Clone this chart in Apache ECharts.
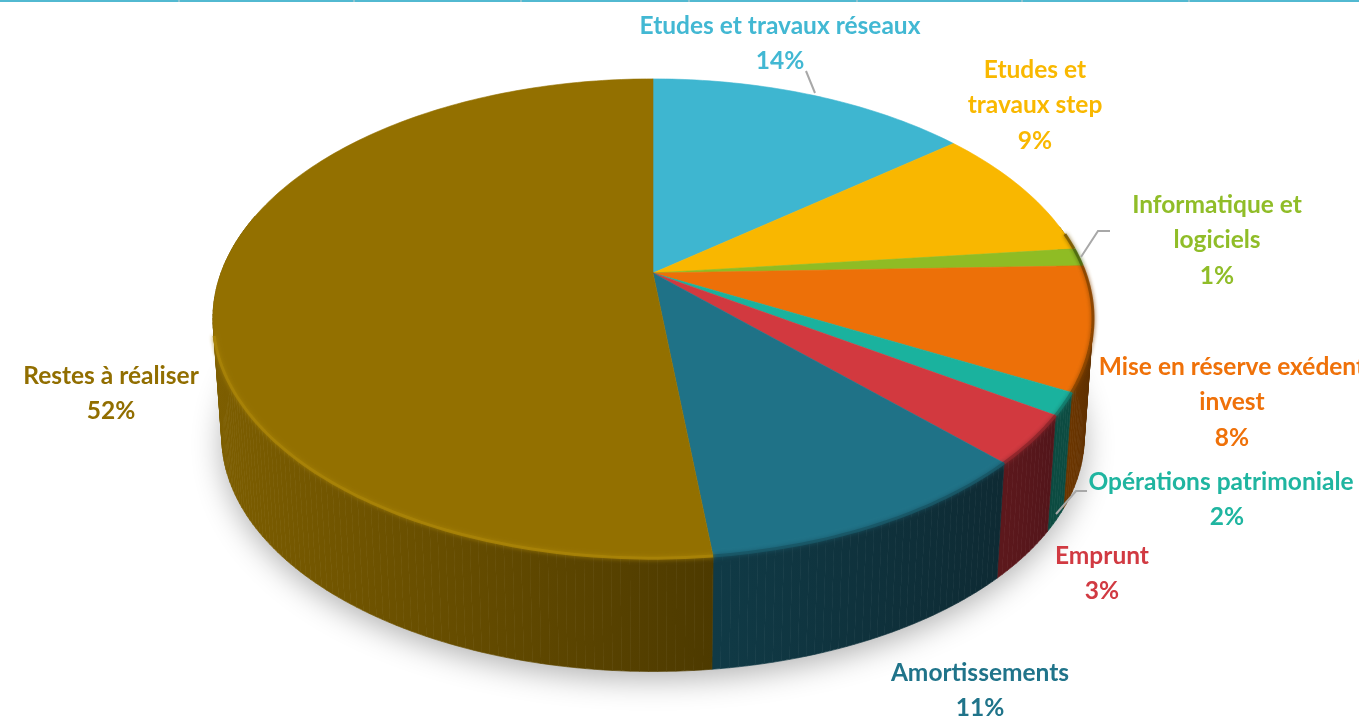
<!DOCTYPE html>
<html><head><meta charset="utf-8">
<style>html,body{margin:0;padding:0;background:#fff}#c{width:1359px;height:718px}</style>
<script src="https://cdn.jsdelivr.net/npm/echarts@6/dist/echarts.min.js"></script>
</head><body><div id="c"></div>
<script>
// ---- data ----
const categories = ['Etudes et travaux réseaux','Etudes et travaux step','Informatique et logiciels','Mise en réserve exédent invest','Opérations patrimoniale','Emprunt','Amortissements','Restes à réaliser'];
const values = [14.2, 9.1, 1.2, 8.3, 1.5, 3.3, 10.6, 51.8];
const labelLines = [['Etudes et travaux réseaux'],['Etudes et','travaux step'],['Informatique et','logiciels'],['Mise en réserve exédent','invest'],['Opérations patrimoniale'],['Emprunt'],['Amortissements'],['Restes à réaliser']];
// ---- styles ----
const faceColors = ['#3eb6d0','#f9b700','#8fbc24','#ed7008','#1ab29e','#d2393f','#1f7287','#937000'];
const textColors = ['#42b8d3','#f9b800','#90bd28','#ef7109','#1fb5a0','#d13a42','#20748a','#916e00'];
const wallLeft  = ['#1b5a68','#7c5c00','#47600f','#6a3500','#0c4b41','#5c181c','#103a46','#7d5e00'];
const wallRight = ['#1b5a68','#7c5c00','#47600f','#5c2e00','#0c4b41','#52151a','#0e2a33','#4d3a00'];
const rimColors = ['#2a8ba0','#7a5a00','#4e6a10','#8a4500','#137a6c','#8f262b','#185666','#a88308'];
const labelPos = [[780,26],[1035,70],[1217,205],[1232,367],[1227,482],[1102,556],[980,673],[111,376]];
const lineShift = {4:[-6,0]};
const leaders = [[[806,71],[815,93]],[[1081,257],[1098,231],[1110,231]],[[1056,514],[1076,491],[1087,491]]];
const topTicks = [178,353,520,688,856,1021,1188];
const FONT = 'Lato', FS = 24.5, LH = 35.5;
// ---- projection ----
const CX=653, CY=273, A=231, B=432, K=0.19, DEPTH_S=0.98, BOT_Y=392;
function proj(deg){const t=deg*Math.PI/180,u=Math.sin(t),v=-Math.cos(t),w=1-K*v;return [B*u/w,A*v/w];}
const topPt=d=>{const p=proj(d);return [CX+p[0],CY+p[1]];};
const botPt=d=>{const p=proj(d);return [CX+DEPTH_S*p[0],BOT_Y+DEPTH_S*p[1]];};
function arc(fn,a,b){const r=[],n=Math.max(2,Math.ceil(Math.abs(b-a)));for(let i=0;i<=n;i++)r.push(fn(a+(b-a)*i/n));return r;}
const total=values.reduce((s,v)=>s+v,0);
function range(i){let s=0;for(let j=0;j<i;j++)s+=values[j];return [s/total*360,(s+values[i])/total*360];}
function pct(i){return values[i]/total*100;}

const chart=echarts.init(document.getElementById('c'),null,{renderer:'canvas'});
const G=echarts.graphic;
chart.setOption({
  animation:false,
  backgroundColor:'#ffffff',
  graphic:[
    {type:'rect',shape:{x:0,y:0,width:1359,height:2},style:{fill:'#52b9d1'},z:10},
    ...topTicks.map(x=>({type:'rect',shape:{x:x,y:0,width:2,height:2},style:{fill:'#8fc3cf'},z:11})),
    ...leaders.map(pts=>({type:'polyline',shape:{points:pts},style:{stroke:'#a8a8a8',lineWidth:2,fill:null},z:12}))
  ],
  series:[
    {type:'custom',coordinateSystem:'none',silent:true,z:1,data:[total],renderItem(){
      return {type:'polygon',shape:{points:arc(botPt,0,360)},style:{fill:'#ffffff',shadowColor:'rgba(0,0,0,0.3)',shadowBlur:30,shadowOffsetY:8}};
    }},
    {type:'custom',coordinateSystem:'none',silent:true,z:2,data:values,renderItem(p){
      const i=p.dataIndex;let [a,b]=range(i);a=Math.max(a,78);b=Math.min(b,285);
      if(b<=a) return {type:'group',children:[]};
      const t=arc(topPt,a,b),o=arc(botPt,a,b);
      const x0=Math.min(...t.map(q=>q[0])),x1=Math.max(...t.map(q=>q[0]));
      const grad=()=>new G.LinearGradient(x0,0,x1,0,[{offset:0,color:wallLeft[i]},{offset:1,color:wallRight[i]}],true);
      const quads=[];
      for(let n=0;n<t.length-1;n++) quads.push({type:'polygon',shape:{points:[t[n],t[n+1],o[n+1],o[n]]},style:{fill:grad(),stroke:grad(),lineWidth:0.7}});
      return {type:'group',children:quads};
    }},
    {type:'custom',coordinateSystem:'none',silent:true,z:3,data:values,renderItem(p){
      const i=p.dataIndex,[a,b]=range(i);
      return {type:'polygon',shape:{points:[[CX,CY]].concat(arc(topPt,a,b))},style:{fill:faceColors[i],stroke:faceColors[i],lineWidth:0.6}};
    }},
    {type:'custom',coordinateSystem:'none',silent:true,z:4,data:values,renderItem(p){
      const i=p.dataIndex;let [a,b]=range(i);a=Math.max(a,80);b=Math.min(b,255);
      if(b<=a) return {type:'group',children:[]};
      return {type:'polyline',shape:{points:arc(topPt,a,b)},style:{fill:null,stroke:rimColors[i],lineWidth:3,opacity:0.9,shadowColor:rimColors[i],shadowBlur:4,lineCap:'butt'}};
    }},
    {type:'custom',coordinateSystem:'none',silent:true,z:5,data:values,renderItem(p){
      const i=p.dataIndex,pos=labelPos[i],txt=Math.round(pct(i))+'%';
      const lines=labelLines[i].concat([txt]),sh=lineShift[i]||[];
      return {type:'group',children:lines.map((s,n)=>({type:'text',style:{
        x:pos[0]+(sh[n]||0),y:pos[1]+n*LH,text:s,fill:textColors[i],font:'bold '+FS+'px '+FONT,align:'center',verticalAlign:'middle'}}))};
    }}
  ]
});
</script></body></html>
